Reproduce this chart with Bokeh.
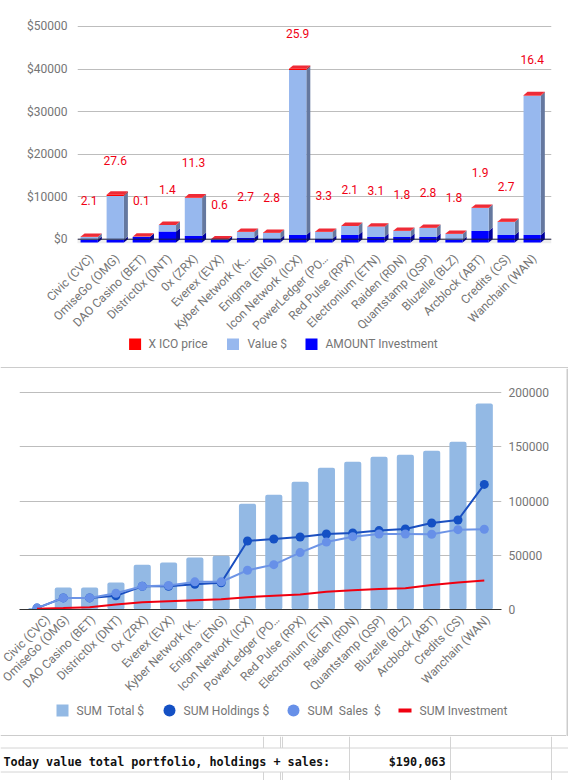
import math
from bokeh.plotting import figure
from bokeh.layouts import column, row
from bokeh.core.properties import value
from bokeh.models import Range1d, FixedTicker, Span
from bokeh.embed import file_html
from bokeh.resources import INLINE

categories = ["Civic (CVC)", "OmiseGo (OMG)", "DAO Casino (BET)", "District0x (DNT)", "0x (ZRX)",
              "Everex (EVX)", "Kyber Network (K…", "Enigma (ENG)", "Icon Network (ICX)",
              "PowerLedger (PO…", "Red Pulse (RPX)", "Electronium (ETN)", "Raiden (RDN)",
              "Quantstamp (QSP)", "Bluzelle (BLZ)", "Arcblock (ABT)", "Credits (CS)", "Wanchain (WAN)"]

amount_investment = [700, 630, 1330, 2590, 1570, 700, 1100, 860, 1800, 860, 1800, 1330, 1330, 1330, 630, 2740, 1800, 1800]
value_usd = [630, 10350, 60, 1560, 8930, 60, 1400, 1410, 38800, 1640, 2100, 2370, 1410, 2120, 1410, 5410, 3060, 32700]
x_ico_price = [2.1, 27.6, 0.1, 1.4, 11.3, 0.6, 2.7, 2.8, 25.9, 3.3, 2.1, 3.1, 1.8, 2.8, 1.8, 1.9, 2.7, 16.4]
ico_label_height = [9090, 18500, 9090, 11680, 18110, 8150, 10040, 9800, 48300, 10270, 11680, 11450, 10500, 10980, 9800, 15680, 12390, 42260]

sum_total = [1300, 20300, 20300, 24900, 41400, 43300, 47900, 49700, 97600, 105900, 117900, 130800, 136300, 140900, 142800, 146400, 154700, 190063]
sum_holdings = [1300, 10700, 10700, 12600, 21500, 21500, 23300, 24600, 63200, 65100, 66900, 69700, 70600, 72800, 74300, 79800, 82600, 115400]
sum_sales = [1300, 10700, 10700, 15000, 21500, 22100, 25500, 25500, 36200, 41400, 52500, 62300, 67200, 69700, 69700, 69400, 73700, 74000]
sum_investment = [700, 1300, 2000, 4600, 6800, 7700, 8600, 9500, 11400, 12600, 13800, 16300, 17800, 19000, 19600, 22700, 24900, 26700]

top_ticks = [0, 10000, 20000, 30000, 40000, 50000]
bottom_ticks = [0, 50000, 100000, 150000, 200000]
legend_top = ["X ICO price", "Value $", "AMOUNT Investment"]
legend_bottom = ["SUM\u00a0 Total $", "SUM Holdings $", "SUM\u00a0 Sales\u00a0 $", "SUM Investment"]
table_label = "Today value total portfolio, holdings + sales:"
table_value = "$190,063"

GREY = "#757575"
EDGE = "#9a9a9a"
FONT = "Roboto"
RED = "#ff0000"
VALUE_BLUE = "#97b8ee"
PURE_BLUE = "#0000ff"
TOTAL_BLUE = "#93b9e4"
HOLD_BLUE = "#1450c4"
SALE_BLUE = "#6790e8"
INV_RED = "#f00010"
idx = list(range(len(categories)))
overrides = {i: c for i, c in enumerate(categories)}


def strip(w, h, x0, x1, y_bottom, y_top, **kw):
    """Blank full-bleed figure whose data coordinates are picture pixels."""
    s = figure(width=w, height=h, output_backend="svg", toolbar_location=None,
               x_range=Range1d(x0, x1), y_range=Range1d(y_bottom, y_top),
               x_axis_type=None, y_axis_type=None, min_border=0, outline_line_color=None, frame_align=False, **kw)
    s.grid.visible = False
    return s


def style_axes(p, ticks, fmt):
    p.grid.visible = False
    p.ygrid.visible = True
    p.ygrid.ticker = FixedTicker(ticks=ticks)
    p.ygrid.grid_line_color = "#bdbdbd"
    p.ygrid.grid_line_width = 1
    p.xaxis.ticker = FixedTicker(ticks=idx)
    p.xaxis.major_label_overrides = overrides
    p.xaxis.major_label_orientation = math.pi / 4
    p.xaxis.major_label_text_font = FONT
    p.xaxis.major_label_text_font_size = "12px"
    p.xaxis.major_label_text_color = GREY
    p.xaxis.major_tick_line_color = None
    p.xaxis.minor_tick_line_color = None
    p.xaxis.major_tick_out = 0
    p.xaxis.major_tick_in = 0
    p.yaxis.ticker = FixedTicker(ticks=ticks)
    p.yaxis.major_label_text_font = FONT
    p.yaxis.major_label_text_font_size = "12px"
    p.yaxis.major_label_text_color = GREY
    p.yaxis.major_tick_line_color = None
    p.yaxis.minor_tick_line_color = None
    p.yaxis.major_tick_out = 0
    p.yaxis.major_tick_in = 0
    p.yaxis.axis_line_color = None
    p.yaxis.major_label_overrides = fmt


def legend_text(s, xs, y, labels):
    s.text(x=xs, y=[y] * len(xs), text=labels, text_color=GREY, text_font=value(FONT),
           text_font_size="12px", text_align="left", text_baseline="middle")


# ---------- top edge ----------
p0 = strip(568, 2, 0, 568, 2, 0)
p0.quad(left=0, right=568, top=0, bottom=1.5, fill_color=EDGE, line_color=None)

# ---------- top chart: pseudo 3D stacked columns ----------
FRONT = -0.085    # front face centre relative to the tick
WIDTH = 0.664
DX = 0.153
DY = 800
Y0 = -1716

p1 = figure(width=568, height=344, output_backend="svg", toolbar_location=None,
            x_range=Range1d(-0.534, 17.656), y_range=Range1d(Y0, 51410),
            min_border_left=77, min_border_right=17, min_border_top=18, min_border_bottom=100,
            outline_line_color=None, frame_align=False)
style_axes(p1, top_ticks, {t: f"${t}" for t in top_ticks})
p1.xaxis.axis_line_color = None
p1.xaxis.major_label_standoff = 10
p1.yaxis.major_label_standoff = 10

p1.patch([-0.7, 17.656, 17.656, -0.7], [-950, -950, 0, 0], fill_color="#eeeeee", line_color=None)
p1.add_layout(Span(location=0, dimension="width", line_color="#1a1a3a", line_width=1))

left = [i + FRONT - WIDTH / 2 for i in idx]
right = [i + FRONT + WIDTH / 2 for i in idx]
xc = [i + FRONT for i in idx]
b0 = [-DY] * len(idx)
b1 = [a - DY for a in amount_investment]
b2 = [a + v - DY for a, v in zip(amount_investment, value_usd)]
b3 = [a + v + x * 10 - DY for a, v, x in zip(amount_investment, value_usd, x_ico_price)]


def side(lo, hi, color):
    xs = [[r, r + DX, r + DX, r] for r in right]
    ys = [[l, l + DY, h + DY, h] for l, h in zip(lo, hi)]
    p1.patches(xs, ys, fill_color=color, line_color=None)


side(b0, b1, "#00009c")
side(b1, b2, "#65789f")
side(b2, b3, "#a01018")
p1.patches([[l, r, r + DX, l + DX] for l, r in zip(left, right)],
           [[t, t, t + DY, t + DY] for t in b3],
           fill_color="#ee2b37", line_color=None)
p1.vbar(x=xc, width=WIDTH, bottom=b0, top=b1, fill_color=PURE_BLUE, line_color=None)
p1.vbar(x=xc, width=WIDTH, bottom=b1, top=b2, fill_color=VALUE_BLUE, line_color=None)
p1.vbar(x=xc, width=WIDTH, bottom=b2, top=b3, fill_color=RED, line_color=None)

p1.text(x=xc, y=ico_label_height, text=[f"{v:.1f}" for v in x_ico_price], text_color="#f00014",
        text_font=value(FONT), text_font_size="12px", text_align="center", text_baseline="middle")

# legend strip of the top chart (pulled up over the empty bottom border of p1)
k1 = strip(568, 30, 0, 568, 368, 338, margin=(-8, 0, 0, 0))
k1.scatter([134.6, 232.5, 311], [343.5] * 3, marker="square", size=12,
           fill_color=[RED, VALUE_BLUE, PURE_BLUE], line_color=None)
legend_text(k1, [148, 247, 325], 343.5, legend_top)
k1.quad(left=0, right=568, top=367, bottom=368, fill_color=EDGE, line_color=None)

# ---------- bottom chart: combo ----------
B = -0.135
p2 = figure(width=566, height=347, output_backend="svg", toolbar_location=None,
            x_range=Range1d(-0.8, 17.519), y_range=Range1d(0, 206700),
            y_axis_location="right",
            min_border_left=19, min_border_right=65, min_border_top=17, min_border_bottom=106,
            outline_line_color=None, frame_align=False)
style_axes(p2, bottom_ticks, {t: str(t) for t in bottom_ticks})
p2.xaxis.axis_line_color = "#333333"
p2.xaxis.major_label_standoff = 8
p2.yaxis.major_label_standoff = 7

xb = [i + B for i in idx]
p2.vbar(x=xb, width=0.65, top=sum_total, bottom=0, fill_color=TOTAL_BLUE, line_color=None, border_radius=2)
p2.line(xb, sum_holdings, line_color="#1a4fc0", line_width=2)
p2.scatter(xb, sum_holdings, size=9, fill_color=HOLD_BLUE, line_color=None)
p2.line(xb, sum_sales, line_color="#6d94e6", line_width=2)
p2.scatter(xb, sum_sales, size=9, fill_color=SALE_BLUE, line_color=None)
p2.line(xb, sum_investment, line_color=INV_RED, line_width=2)

# legend strip of the bottom chart (pulled up over the empty bottom border of p2)
k2 = strip(566, 33, 0, 566, 736, 703, margin=(-12, 0, 0, 0))
k2.scatter([62], [710], marker="square", size=12, fill_color=TOTAL_BLUE, line_color=None)
k2.scatter([169, 293], [710, 710], marker="circle", size=12, fill_color=[HOLD_BLUE, SALE_BLUE], line_color=None)
k2.quad(left=398, right=411, top=708, bottom=712, fill_color=INV_RED, line_color=None)
legend_text(k2, [76, 183, 307, 419], 710, legend_bottom)
k2.quad(left=0, right=566, top=735, bottom=736, fill_color=EDGE, line_color=None)

edge = strip(2, 368, 566, 568, 736, 368)
edge.quad(left=566, right=567, top=368, bottom=736, fill_color=EDGE, line_color=None)

# ---------- sheet strip below ----------
p3 = strip(568, 44, 0, 568, 780, 736)
for xv in [263, 280, 282]:
    p3.segment(xv, 736, xv, 747.5, line_color="#d4d4d4", line_width=1)
    p3.segment(xv, 771.5, xv, 780, line_color="#d4d4d4", line_width=1)
for xv in [349, 450, 551]:
    p3.segment(xv, 736, xv, 780, line_color="#d4d4d4", line_width=1)
for yv in [747.5, 771.5]:
    p3.segment(0, yv, 568, yv, line_color="#d4d4d4", line_width=1)
p3.text(x=[3], y=[761], text=[table_label], text_font=value("DejaVu Sans Mono"), text_font_style="bold",
        text_font_size="11.8px", text_color="#111111", text_baseline="middle", text_align="left")
p3.text(x=[445], y=[761], text=[table_value], text_font=value("DejaVu Sans Mono"), text_font_style="bold",
        text_font_size="11.8px", text_color="#111111", text_baseline="middle", text_align="right")

page = column(p0, p1, k1, row(column(p2, k2, spacing=0), edge, spacing=0), p3, spacing=0)
open("out.html", "w").write(file_html(page, INLINE))
